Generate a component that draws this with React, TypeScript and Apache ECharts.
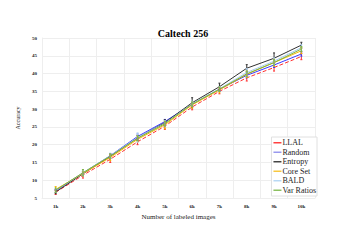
import React, { useEffect, useRef } from "react";
import * as echarts from "echarts";

const categories = ["1k", "2k", "3k", "4k", "5k", "6k", "7k", "8k", "9k", "10k"];
const yTicks = [5, 10, 15, 20, 25, 30, 35, 40, 45, 50];

const llal = [6.6, 11.4, 15.9, 20.8, 25.2, 30.6, 35.0, 38.8, 41.7, 44.8];
const random = [7.0, 12.0, 16.9, 22.3, 26.5, 31.4, 35.6, 39.5, 42.4, 45.5];
const entropy = [6.7, 11.8, 16.7, 21.9, 26.2, 31.8, 36.3, 41.5, 44.3, 48.0];
const coreSet = [7.4, 11.9, 16.4, 21.5, 25.6, 31.2, 35.4, 39.8, 43.1, 46.4];
const bald = [7.1, 12.1, 16.9, 22.0, 26.0, 31.5, 35.7, 40.3, 43.5, 47.3];
const varRatios = [7.2, 12.1, 16.8, 21.8, 25.9, 31.4, 35.6, 39.9, 43.1, 46.9];

const llalErr = [0.6, 0.8, 0.9, 0.8, 0.9, 0.8, 0.7, 0.9, 1.0, 0.9];
const randomErr = [0.4, 0.5, 0.6, 0.7, 0.6, 0.6, 0.6, 0.7, 0.7, 0.6];
const entropyErr = [0.5, 0.5, 0.6, 0.7, 0.8, 1.4, 1.0, 1.0, 1.5, 0.8];
const coreSetErr = [0.8, 0.6, 0.9, 0.7, 1.1, 0.9, 0.8, 0.9, 1.0, 0.8];
const baldErr = [0.5, 0.8, 0.7, 1.3, 0.8, 0.7, 0.6, 1.1, 0.9, 0.8];
const varRatiosErr = [0.6, 0.9, 0.6, 0.7, 0.7, 0.6, 0.6, 0.8, 0.8, 0.7];

const seriesNames = ["LLAL", "Random", "Entropy", "Core Set", "BALD", "Var Ratios"];
const seriesValues = [llal, random, entropy, coreSet, bald, varRatios];
const seriesErrors = [llalErr, randomErr, entropyErr, coreSetErr, baldErr, varRatiosErr];
const seriesColors = ["#ff3030", "#3a3aff", "#333333", "#f5b800", "#a8cdf0", "#7cb342"];
const legendColors = ["#ff4040", "#9999ee", "#444444", "#f8c840", "#b8d8f4", "#8cc060"];
const seriesDash = ["dashed", "solid", "solid", "solid", "solid", "solid"];

const FONT = "Liberation Serif, Times New Roman, DejaVu Serif, serif";

export default function App() {
  const ref = useRef<HTMLDivElement>(null);
  useEffect(() => {
    if (!ref.current) return;
    const chart = echarts.init(ref.current, null, { renderer: "svg" });
    const lineSeries = seriesNames.map((name, i) => ({
      name,
      type: "line",
      data: seriesValues[i],
      symbol: "none",
      z: 3,
      lineStyle: { color: seriesColors[i], width: 1, type: seriesDash[i] },
      itemStyle: { color: seriesColors[i] },
    }));
    const errSeries = seriesNames.map((name, i) => ({
      name: name + " err",
      type: "custom",
      z: 4,
      data: seriesValues[i].map((v, j) => [j, v - seriesErrors[i][j], v + seriesErrors[i][j]]),
      renderItem: (params: any, api: any) => {
        const x = api.value(0);
        const lo = api.coord([x, api.value(1)]);
        const hi = api.coord([x, api.value(2)]);
        const style = { stroke: seriesColors[i], lineWidth: 1 };
        return {
          type: "group",
          children: [
            { type: "line", shape: { x1: lo[0], y1: lo[1], x2: hi[0], y2: hi[1] }, style },
            { type: "line", shape: { x1: lo[0] - 1, y1: lo[1], x2: lo[0] + 1, y2: lo[1] }, style },
            { type: "line", shape: { x1: hi[0] - 1, y1: hi[1], x2: hi[0] + 1, y2: hi[1] }, style },
          ],
        };
      },
      encode: { x: 0, y: [1, 2] },
      silent: true,
    }));
    chart.setOption({
      animation: false,
      backgroundColor: "#ffffff",
      color: seriesColors,
      title: {
        text: "Caltech 256",
        left: 178,
        textAlign: "center",
        top: 23,
        textStyle: { fontFamily: FONT, fontSize: 10, fontWeight: "bold", color: "#000" },
      },
      grid: { left: 42, right: 24, top: 38, bottom: 42 },
      legend: {
        data: seriesNames.map((name, i) => ({
          name,
          icon: "rect",
          itemStyle: { color: legendColors[i], borderColor: legendColors[i], borderWidth: 0, opacity: 1 },
        })),
        orient: "vertical",
        right: 22,
        bottom: 44,
        backgroundColor: "#ffffff",
        borderColor: "#e0e0e0",
        borderWidth: 1,
        borderRadius: 0,
        padding: [1, 1, 1, 2],
        itemGap: 0,
        itemWidth: 8,
        itemHeight: 1.5,
        textStyle: { fontFamily: FONT, fontSize: 8, lineHeight: 9.5, color: "#222", padding: [0, 0, 0, -4] },
      },
      xAxis: {
        type: "category",
        data: categories,
        boundaryGap: true,
        name: "Number of labeled images",
        nameLocation: "middle",
        nameGap: 11,
        nameTextStyle: { fontFamily: FONT, fontSize: 7, color: "#222" },
        axisLine: { show: true, lineStyle: { color: "#eeeeee" } },
        axisTick: { show: false },
        axisLabel: { fontFamily: FONT, fontSize: 5, fontWeight: "bold", color: "#222", margin: 6, interval: 0 },
        splitLine: { show: true, interval: 0, lineStyle: { color: "#eeeeee", width: 1 } },
      },
      yAxis: {
        type: "value",
        min: yTicks[0],
        max: yTicks[yTicks.length - 1],
        interval: 5,
        name: "Accuracy",
        nameLocation: "middle",
        nameGap: 12,
        nameTextStyle: { fontFamily: FONT, fontSize: 6, color: "#222" },
        axisLine: { show: true, lineStyle: { color: "#eeeeee" } },
        axisTick: { show: false },
        axisLabel: { fontFamily: FONT, fontSize: 5, fontWeight: "bold", color: "#222", margin: 5 },
        splitLine: { show: true, lineStyle: { color: "#eeeeee", width: 1 } },
      },
      series: [...lineSeries, ...errSeries],
    });
    return () => chart.dispose();
  }, []);
  return (
    <div
      ref={ref}
      style={{ position: "fixed", left: 0, top: 0, width: 339, height: 240, background: "#fff" }}
    />
  );
}
